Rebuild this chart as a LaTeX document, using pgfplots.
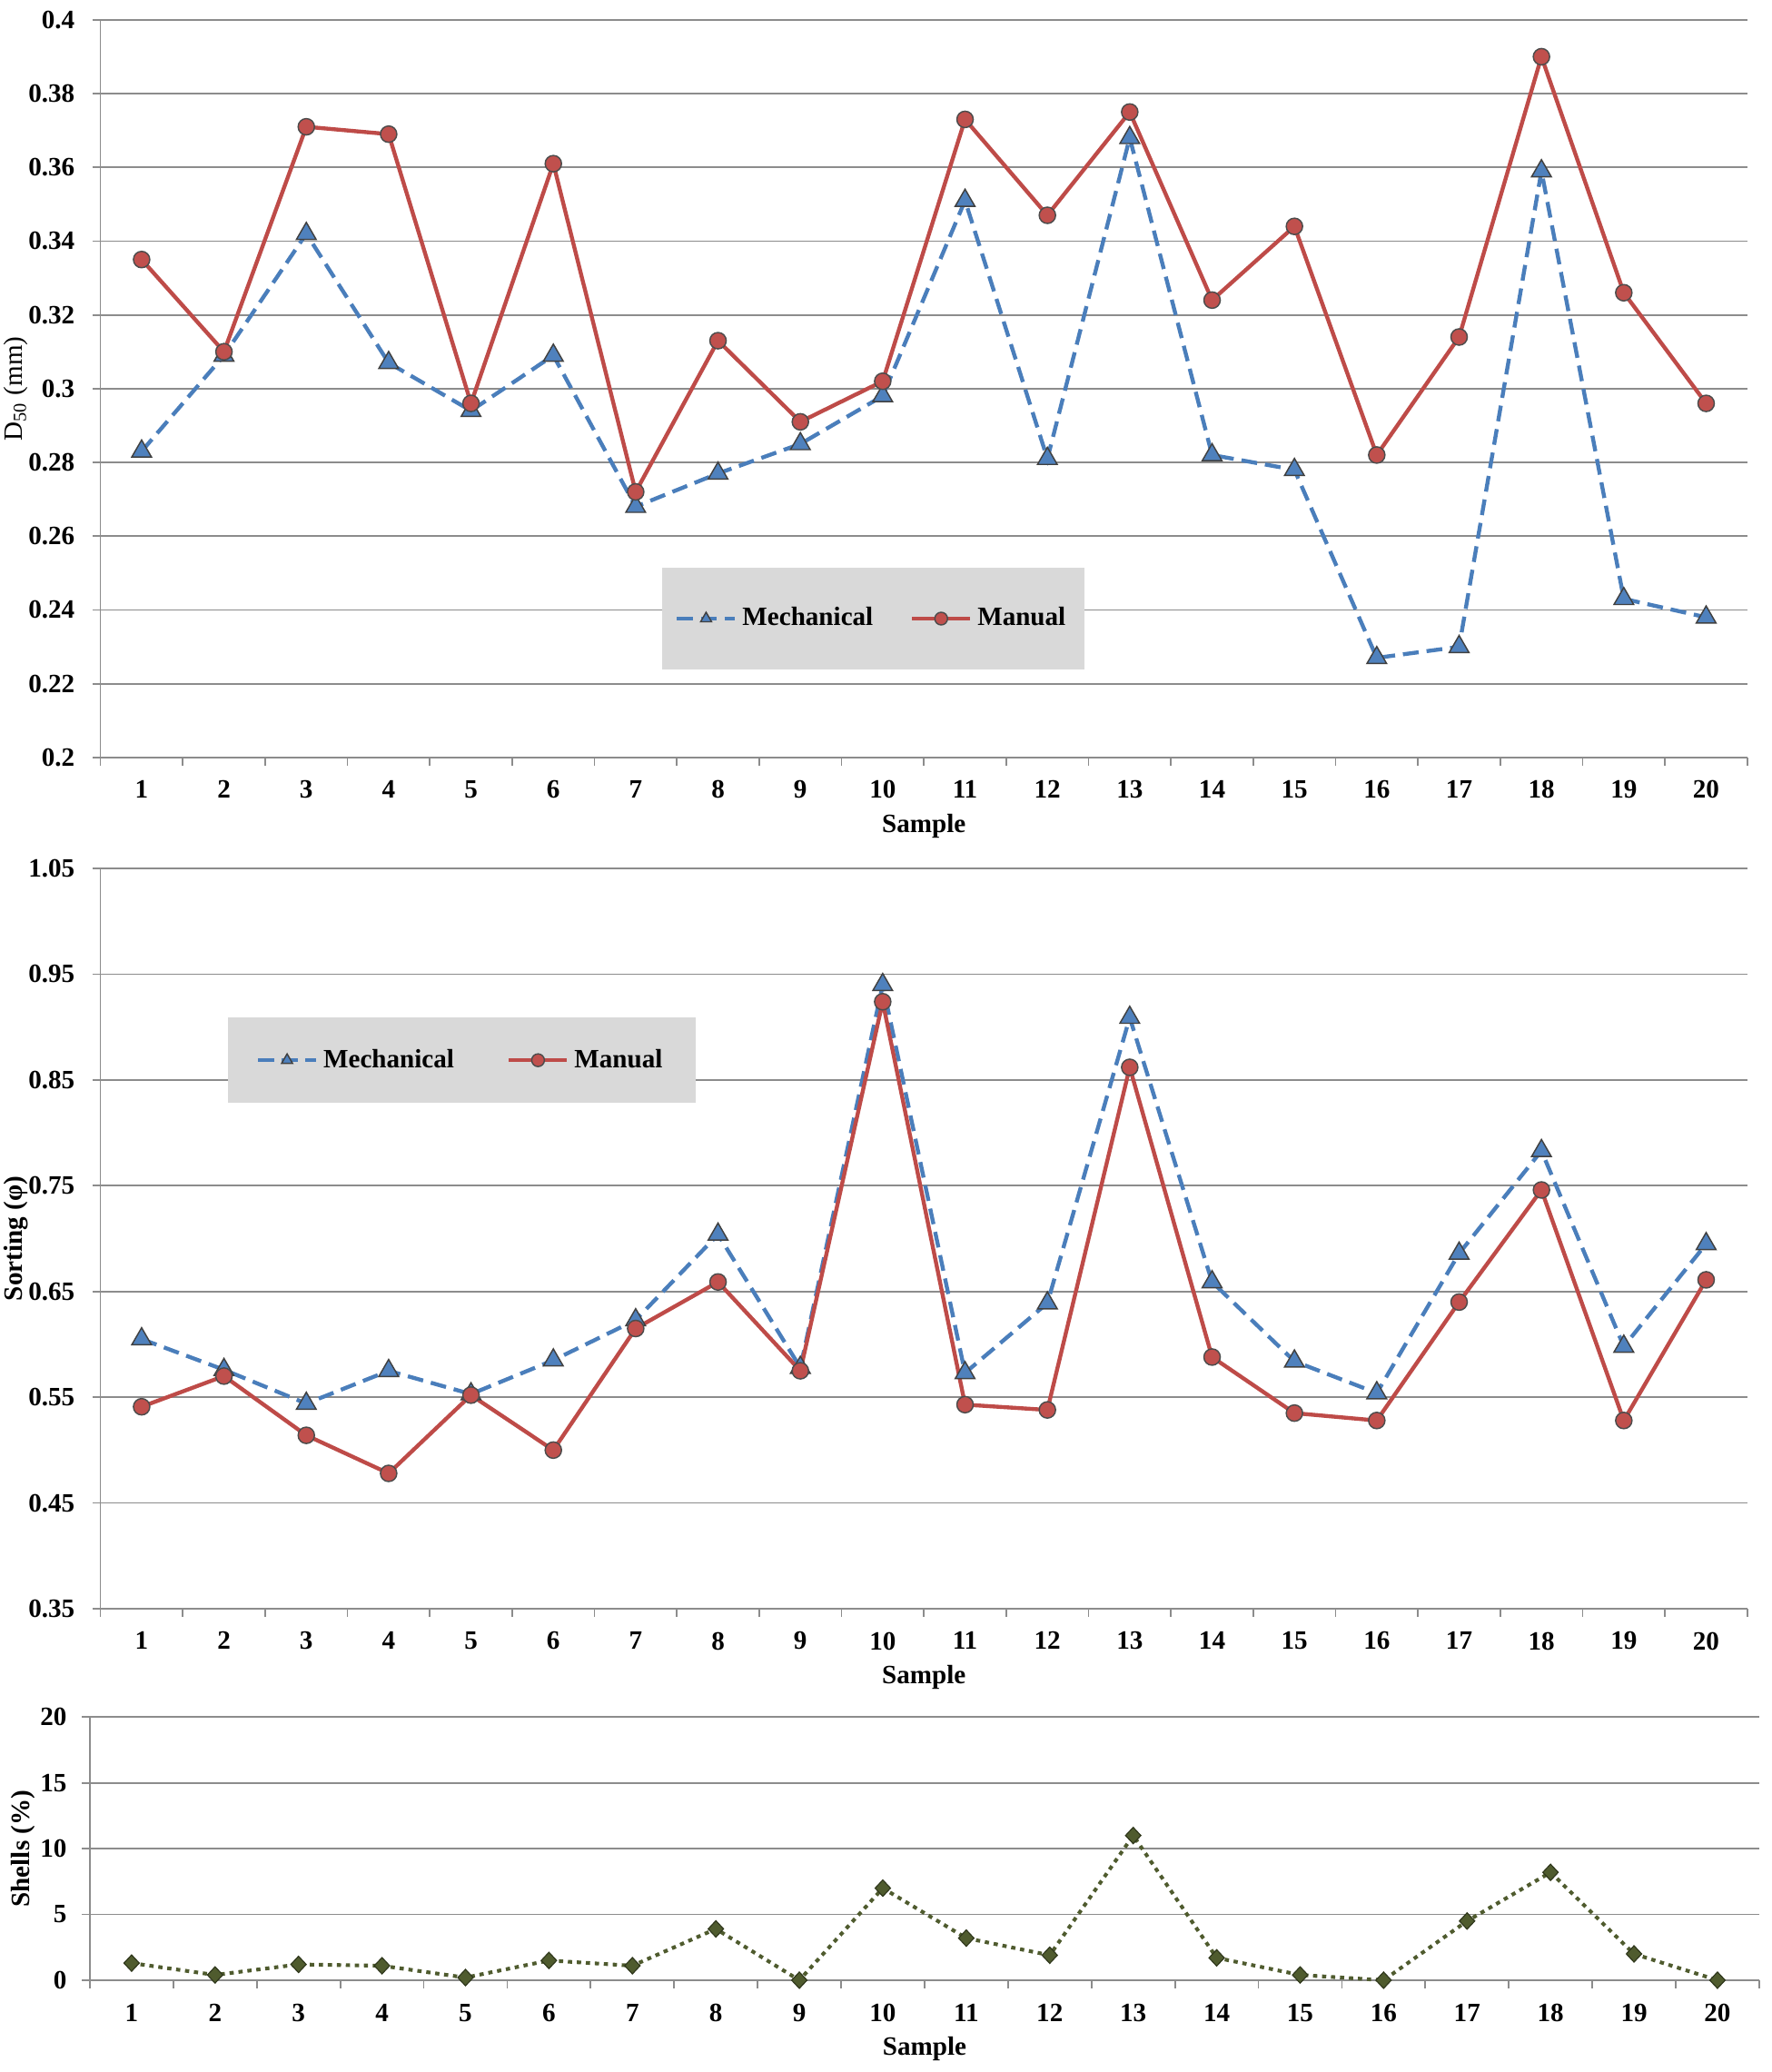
\documentclass[border=0pt]{standalone}
\usepackage{fontspec}
\setmainfont{Liberation Serif}
\usepackage{pgfplots}
\pgfplotsset{compat=1.18}
\definecolor{mechline}{HTML}{4A7EBB}
\definecolor{mechfill}{HTML}{4F81BD}
\definecolor{manline}{HTML}{BE4B48}
\definecolor{manfill}{HTML}{C0504D}
\definecolor{shell}{HTML}{4F5B2E}
\definecolor{gridc}{HTML}{8C8C8C}
\definecolor{legfill}{HTML}{D9D9D9}
\pgfplotsset{
  panel/.style={
    scale only axis, clip=false,
    axis lines*=left,
    axis line style={gridc, line width=0.6pt},
    xmin=0.5, xmax=20.5,
    xtick={0.5,1.5,2.5,3.5,4.5,5.5,6.5,7.5,8.5,9.5,10.5,11.5,12.5,13.5,14.5,15.5,16.5,17.5,18.5,19.5,20.5},
    xticklabels={1,2,3,4,5,6,7,8,9,10,11,12,13,14,15,16,17,18,19,20,{}},
    tick align=outside,
    major tick length=3pt,
    tick style={gridc, line width=0.6pt},
    ymajorgrids, grid style={gridc, line width=0.6pt},
    /pgf/number format/assume math mode=true,
    legend image code/.code={\draw[mark repeat=2,mark phase=2,##1, mark size=2.4pt] plot coordinates {(0pt,0pt) (11pt,0pt) (22pt,0pt)};},
  },
  mech/.style={mechline, line width=1.5pt, dash pattern=on 6pt off 3pt, mark=triangle*, mark size=4.3pt,
     mark options={solid, fill=mechfill, draw=black!75, line width=0.5pt}},
  man/.style={manline, line width=1.5pt, mark=*, mark size=3.1pt,
     mark options={solid, fill=manfill, draw=black!70, line width=0.5pt}},
}
\begin{document}
\begin{tikzpicture}
\useasboundingbox (0,0) rectangle (670pt,-783.73pt);
% ---------- Top panel ----------
\begin{axis}[panel, at={(38pt,-7.5pt)}, anchor=north west, width=623pt, height=279pt,
  ymin=0.2, ymax=0.4, ytick={0.2,0.22,0.24,0.26,0.28,0.3,0.32,0.34,0.36,0.38,0.4},
  xticklabel style={font=\bfseries\fontsize{10}{12}\selectfont, xshift=15.575pt, yshift=-2.3pt},
  yticklabel style={font=\bfseries\fontsize{10}{12}\selectfont, xshift=-3.2pt},
  xlabel={\bfseries Sample}, ylabel={D\textsubscript{50} (mm)},
  label style={font=\fontsize{10}{12}\selectfont},
  every axis x label/.style={at={(axis description cs:0.5,-0.0932)}, anchor=center},
  every axis y label/.style={at={(axis description cs:-0.0514,0.5)}, anchor=center, rotate=90},
  legend columns=2,
  legend style={at={(rel axis cs:0.4691,0.1882)}, anchor=center, fill=legfill, draw=none,
    inner xsep=5pt, inner ysep=13pt, font=\bfseries\fontsize{10}{12}\selectfont,
    /tikz/every even column/.append style={column sep=12pt}},
]
\addplot[mech] coordinates {(1,0.283) (2,0.309) (3,0.342) (4,0.307) (5,0.294) (6,0.309) (7,0.268) (8,0.277) (9,0.285) (10,0.298) (11,0.351) (12,0.281) (13,0.368) (14,0.282) (15,0.278) (16,0.227) (17,0.230) (18,0.359) (19,0.243) (20,0.238)};
\addlegendentry{Mechanical}
\addplot[man] coordinates {(1,0.335) (2,0.310) (3,0.371) (4,0.369) (5,0.296) (6,0.361) (7,0.272) (8,0.313) (9,0.291) (10,0.302) (11,0.373) (12,0.347) (13,0.375) (14,0.324) (15,0.344) (16,0.282) (17,0.314) (18,0.390) (19,0.326) (20,0.296)};
\addlegendentry{Manual}
\end{axis}
% ---------- Middle panel ----------
\begin{axis}[panel, at={(38pt,-328.5pt)}, anchor=north west, width=623pt, height=280pt,
  ymin=0.35, ymax=1.05, ytick={0.35,0.45,0.55,0.65,0.75,0.85,0.95,1.05},
  xticklabel style={font=\bfseries\fontsize{10}{12}\selectfont, xshift=15.575pt, yshift=-2.3pt},
  yticklabel style={font=\bfseries\fontsize{10}{12}\selectfont, xshift=-3.2pt, /pgf/number format/fixed, /pgf/number format/precision=2},
  xlabel={\bfseries Sample}, ylabel={\bfseries Sorting (φ)},
  label style={font=\fontsize{10}{12}\selectfont},
  every axis x label/.style={at={(axis description cs:0.5,-0.0929)}, anchor=center},
  every axis y label/.style={at={(axis description cs:-0.0514,0.5)}, anchor=center, rotate=90},
  legend columns=2,
  legend style={at={(rel axis cs:0.2195,0.741)}, anchor=center, fill=legfill, draw=none,
    inner xsep=10.5pt, inner ysep=10pt, font=\bfseries\fontsize{10}{12}\selectfont,
    /tikz/every even column/.append style={column sep=18pt}},
]
\addplot[mech] coordinates {(1,0.605) (2,0.576) (3,0.544) (4,0.575) (5,0.553) (6,0.585) (7,0.623) (8,0.704) (9,0.578) (10,0.940) (11,0.573) (12,0.639) (13,0.909) (14,0.659) (15,0.584) (16,0.554) (17,0.686) (18,0.783) (19,0.598) (20,0.695)};
\addlegendentry{Mechanical}
\addplot[man] coordinates {(1,0.541) (2,0.570) (3,0.514) (4,0.478) (5,0.552) (6,0.500) (7,0.615) (8,0.659) (9,0.575) (10,0.924) (11,0.543) (12,0.538) (13,0.862) (14,0.588) (15,0.535) (16,0.528) (17,0.640) (18,0.746) (19,0.528) (20,0.661)};
\addlegendentry{Manual}
\end{axis}
% ---------- Bottom panel ----------
\begin{axis}[panel, at={(34pt,-649.5pt)}, anchor=north west, width=631.5pt, height=99.5pt,
  ymin=0, ymax=20, ytick={0,5,10,15,20},
  xticklabel style={font=\bfseries\fontsize{10}{12}\selectfont, xshift=15.79pt, yshift=-2.6pt},
  yticklabel style={font=\bfseries\fontsize{10}{12}\selectfont, xshift=-2.2pt},
  xlabel={\bfseries Sample}, ylabel={\bfseries Shells (\%)},
  label style={font=\fontsize{10}{12}\selectfont},
  every axis x label/.style={at={(axis description cs:0.5,-0.2613)}, anchor=center},
  every axis y label/.style={at={(axis description cs:-0.04,0.5)}, anchor=center, rotate=90},
]
\addplot[shell, line width=1.4pt, dash pattern=on 1.6pt off 1.8pt, mark=diamond*, mark size=3.1pt,
   mark options={solid, fill=shell, draw=shell!60!black, line width=0.4pt, xscale=1.25}]
  coordinates {(1,1.3) (2,0.4) (3,1.2) (4,1.1) (5,0.2) (6,1.5) (7,1.1) (8,3.9) (9,0) (10,7.0) (11,3.2) (12,1.9) (13,11.0) (14,1.7) (15,0.4) (16,0) (17,4.5) (18,8.2) (19,2.0) (20,0)};
\end{axis}
\end{tikzpicture}
\end{document}
